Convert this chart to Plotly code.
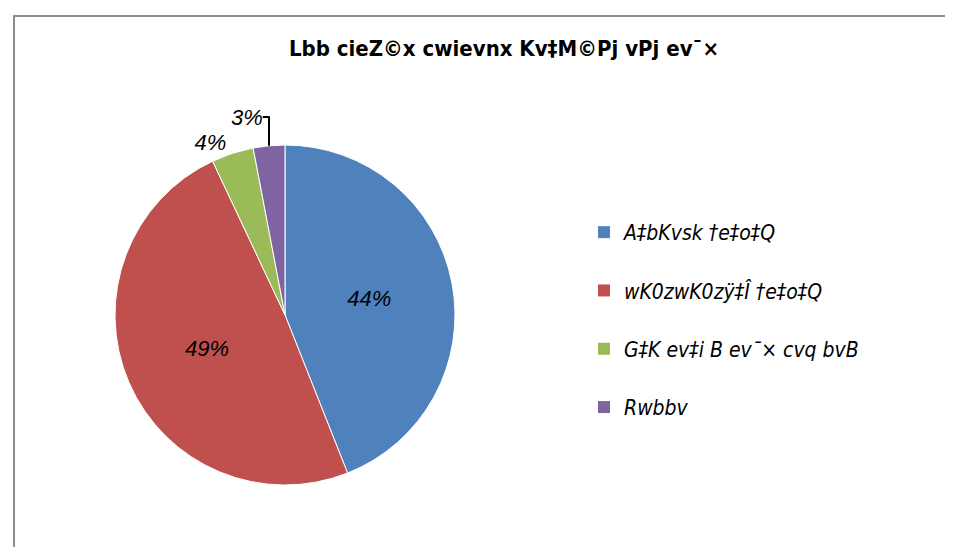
import plotly.graph_objects as go

categories = ["A‡bKvsk †e‡o‡Q", "wK0zwK0zÿ‡Î †e‡o‡Q", "G‡K ev‡i B ev¯× cvq bvB", "Rwbbv"]
values = [44, 49, 4, 3]
colors = ["#4F81BD", "#C0504D", "#9BBB59", "#8064A2"]
title_text = "Lbb cieZ©x cwievnx Kv‡M©Pj vPj ev¯×"

W, H = 953, 547
NARROW = "DejaVu Sans Condensed, Liberation Sans, sans-serif"
fig = go.Figure()

fig.add_trace(go.Pie(
    labels=categories, values=values, sort=False, direction="clockwise", rotation=0,
    marker=dict(colors=colors, line=dict(color="white", width=1)),
    texttemplate="%{value}%",
    textposition=["inside", "inside", "outside", "outside"],
    insidetextorientation="horizontal",
    textfont=dict(family="Liberation Sans", size=22, color="black", style="italic"),
    showlegend=False,
    domain=dict(x=[107 / W, 447 / W], y=[1 - 477 / H, 1 - 137 / H]),
))

for i, (c, col) in enumerate(zip(categories, colors)):
    fig.add_trace(go.Scatter(
        x=[None], y=[None], mode="markers", name=c, legendgroup=f"g{i}",
        marker=dict(symbol="square", size=13, color=col),
    ))

fig.update_layout(
    width=W, height=H,
    margin=dict(l=0, r=0, t=0, b=0),
    paper_bgcolor="white", plot_bgcolor="white",
    xaxis=dict(visible=False), yaxis=dict(visible=False),
    title=dict(text="<b>" + title_text + "</b>", x=496 / W, xanchor="center",
               y=1 - 40 / H, yanchor="middle",
               font=dict(family=NARROW, size=22, color="black")),
    legend=dict(x=576 / W, y=1 - 204 / H, xanchor="left", yanchor="top",
                font=dict(family=NARROW, size=21, color="black", style="italic"),
                tracegroupgap=28, itemsizing="constant", bgcolor="rgba(0,0,0,0)"),
    shapes=[dict(type="rect", xref="paper", yref="paper",
                 x0=6 / W, x1=1.05, y0=-0.05, y1=1 - 8 / H,
                 line=dict(color="#8C8C8C", width=2), fillcolor="rgba(0,0,0,0)", layer="below")],
)

fig.write_html("out.html")
